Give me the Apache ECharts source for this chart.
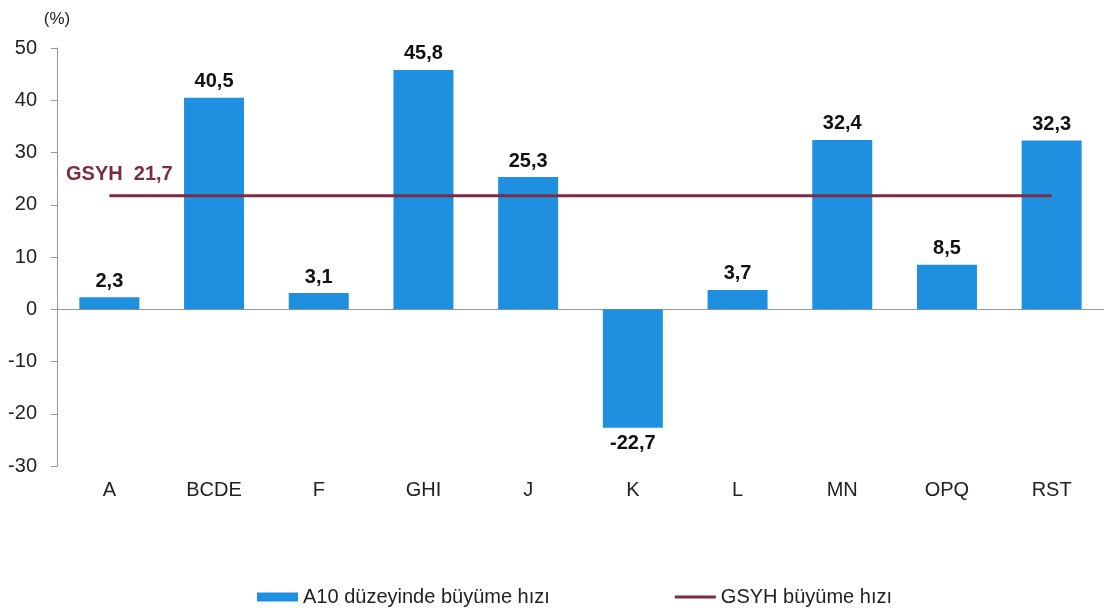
<!DOCTYPE html>
<html lang="tr">
<head>
    <meta charset="UTF-8">
    <title>A10 büyüme hızı</title>
    <style>
        html, body { margin: 0; padding: 0; background: #fff; }
        #chart { width: 1104px; height: 614px; }
    </style>
</head>
<body>
<div id="chart"></div>
<script src="https://cdn.jsdelivr.net/npm/echarts@6/dist/echarts.min.js"></script>
<script>
    var categories = ["A", "BCDE", "F", "GHI", "J", "K", "L", "MN", "OPQ", "RST"];
    var growth = [2.3, 40.5, 3.1, 45.8, 25.3, -22.7, 3.7, 32.4, 8.5, 32.3];
    var gdpGrowth = 21.7;
    var yTicks = { min: -30, max: 50, interval: 10 };

    var font = "Liberation Sans, Arial, sans-serif";
    var gdpLine = categories.map(function () { return gdpGrowth; });

    function fmt(v) {
        return String(v).replace(".", ",");
    }

    // negative bar gets its label underneath
    var barData = growth.map(function (v) {
        return {
            value: v,
            label: { position: v < 0 ? "bottom" : "top" }
        };
    });

    var chart = echarts.init(document.getElementById("chart"));
    var option = {
        animation: false,
        textStyle: { fontFamily: font },
        grid: { left: 57, right: -6, top: 48, bottom: 148 },
        legend: {
            left: 257,
            top: 587,
            padding: 0,
            itemGap: 125,
            itemWidth: 41,
            itemHeight: 9,
            textStyle: { fontSize: 20, color: "#222", fontFamily: font },
            data: [
                { name: "A10 düzeyinde büyüme hızı", icon: "rect" },
                { name: "GSYH büyüme hızı", icon: "path://M0 0H41V3H0Z" }
            ]
        },
        xAxis: {
            type: "category",
            data: categories,
            axisLine: { onZero: true, lineStyle: { color: "#999" } },
            axisTick: { show: false },
            axisLabel: { fontSize: 20, color: "#222", margin: 14, fontFamily: font }
        },
        yAxis: {
            type: "value",
            min: yTicks.min,
            max: yTicks.max,
            interval: yTicks.interval,
            name: "(%)",
            nameGap: 20,
            nameTextStyle: { fontSize: 17, color: "#222", align: "center" },
            axisLine: { show: true, lineStyle: { color: "#999" } },
            axisTick: { show: true, length: 6, lineStyle: { color: "#999" } },
            axisLabel: { fontSize: 20, color: "#222", margin: 20 },
            splitLine: { show: false }
        },
        series: [
            {
                name: "A10 düzeyinde büyüme hızı",
                type: "bar",
                data: barData,
                barWidth: 60,
                itemStyle: { color: "#1F8FE0" },
                label: {
                    show: true,
                    fontSize: 20,
                    fontWeight: "bold",
                    color: "#111",
                    distance: 6,
                    formatter: function (p) { return fmt(p.value); }
                }
            },
            {
                name: "GSYH büyüme hızı",
                type: "line",
                data: gdpLine,
                symbol: "none",
                lineStyle: { color: "#7E2A40", width: 3 },
                itemStyle: { color: "#7E2A40" },
                z: 5,
                markPoint: {
                    symbol: "rect",
                    symbolSize: 1,
                    itemStyle: { color: "transparent" },
                    label: {
                        show: true,
                        formatter: "GSYH  " + fmt(gdpGrowth),
                        fontSize: 20,
                        fontWeight: "bold",
                        color: "#7A2D3F",
                        position: "top",
                        offset: [10, -6]
                    },
                    data: [{ coord: [0, gdpGrowth] }]
                }
            }
        ]
    };
    chart.setOption(option);
</script>
</body>
</html>
